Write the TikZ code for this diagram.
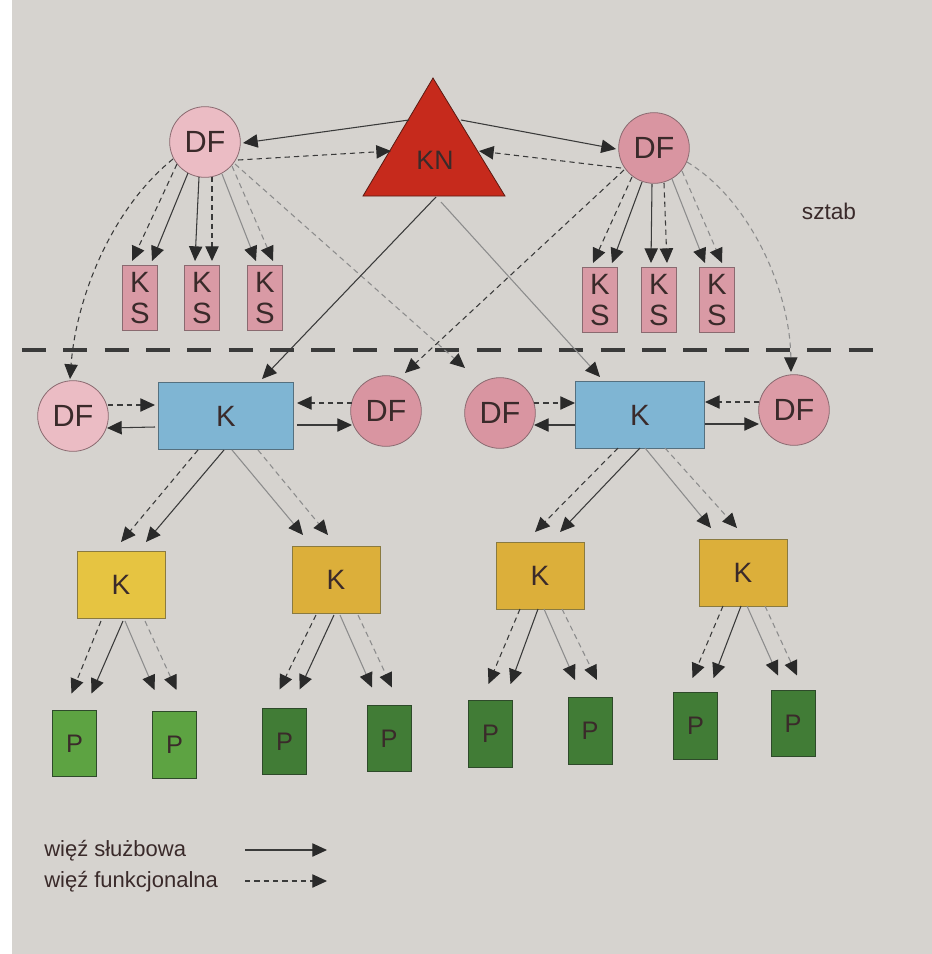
\documentclass[tikz,border=0pt]{standalone}
\usepackage{fontspec}
\setmainfont{Liberation Sans}
\usetikzlibrary{arrows.meta,calc}
\definecolor{bgc}{HTML}{D6D3CF}
\definecolor{pinkA}{HTML}{EBBCC4}
\definecolor{pinkB}{HTML}{D995A1}
\definecolor{pinkKS}{HTML}{D99AA5}
\definecolor{pinkbd}{HTML}{8A6A70}
\definecolor{knred}{HTML}{C62A1C}
\definecolor{knbd}{HTML}{5A1A12}
\definecolor{blueK}{HTML}{7FB5D3}
\definecolor{bluebd}{HTML}{55707F}
\definecolor{yelA}{HTML}{E6C441}
\definecolor{yelB}{HTML}{DCAF3A}
\definecolor{yelbd}{HTML}{8A7A40}
\definecolor{grnA}{HTML}{5DA342}
\definecolor{grnB}{HTML}{417C36}
\definecolor{grnbd}{HTML}{2E4A2A}
\definecolor{txtc}{HTML}{3A2A2A}
\definecolor{linec}{HTML}{3A3A3A}
\definecolor{lightc}{HTML}{8C8C8C}
\definecolor{tipc}{HTML}{2A2A2A}
\tikzset{
  df/.style={circle, draw=pinkbd, line width=0.6pt, fill=pinkA, minimum size=53pt, inner sep=0pt, text=txtc, font=\fontsize{23}{23}\selectfont},
  dfd/.style={df, fill=pinkB},
  ks/.style={rectangle, draw=pinkbd, line width=0.6pt, fill=pinkKS, minimum width=26pt, minimum height=49pt, inner sep=0pt, align=center, text=txtc, font=\fontsize{22}{23}\selectfont},
  kb/.style={rectangle, draw=bluebd, line width=0.6pt, fill=blueK, minimum width=101pt, minimum height=50pt, text=txtc, font=\fontsize{22}{22}\selectfont},
  ky/.style={rectangle, draw=yelbd, line width=0.6pt, fill=yelA, minimum width=66pt, minimum height=50pt, text=txtc, font=\fontsize{21}{21}\selectfont},
  kyd/.style={ky, fill=yelB},
  pg/.style={rectangle, draw=grnbd, line width=0.6pt, fill=grnA, minimum width=33pt, minimum height=50pt, text=txtc, font=\fontsize{19}{19}\selectfont},
  pgd/.style={pg, fill=grnB},
  sl/.style={draw=linec, line width=0.8pt, -{Triangle[length=11pt,width=10pt,color=tipc]}},
  fn/.style={sl, dash pattern=on 4pt off 3pt},
  light/.style={draw=lightc},
  sepline/.style={draw=linec, line width=2.6pt, dash pattern=on 18pt off 13pt},
  lbl/.style={text=txtc, inner sep=0pt}
}
\begin{document}
\begin{tikzpicture}[x=0.75pt,y=-0.75pt]
\useasboundingbox (0,0) rectangle (932,954);
\fill[bgc] (0,0) rectangle (932,954);
\fill[white] (0,0) rectangle (12,954);

% ---- top level ----
\fill[knred, draw=knbd, line width=0.6pt] (433,78) -- (505,196) -- (363,196) -- cycle;
\node[lbl, font=\fontsize{20}{20}\selectfont] (kn) at (435,160) {KN};
\node[df] (dfTL) at (205,142) {DF};
\node[dfd] (dfTR) at (654,148) {DF};
\node[ks] (ks1) at (140,298) {K\\S};
\node[ks] (ks2) at (202,298) {K\\S};
\node[ks] (ks3) at (265,298) {K\\S};
\node[ks] (ks4) at (600,300) {K\\S};
\node[ks] (ks5) at (659,300) {K\\S};
\node[ks] (ks6) at (717,300) {K\\S};
\node[lbl, font=\fontsize{17}{17}\selectfont] (sztab) at (829,211) {sztab};

\coordinate (sepL) at (22,350);
\coordinate (sepR) at (882,350);
\draw[sepline] (sepL) -- (sepR);

% ---- middle level ----
\node[df] (dfML) at (73,416) {DF};
\node[kb] (kbL) at (226,416) {K};
\node[dfd] (dfMC) at (386,411) {DF};
\node[dfd] (dfMC2) at (500,413) {DF};
\node[kb, minimum width=97pt] (kbR) at (640,415) {K};
\node[dfd, fill=pinkB!85!pinkA] (dfMR) at (794,410) {DF};

% ---- lower levels ----
\node[ky] (y1) at (121,585) {K};
\node[kyd] (y2) at (336,580) {K};
\node[kyd] (y3) at (540,576) {K};
\node[kyd] (y4) at (743,573) {K};
\node[pg] (p1) at (74.5,743.5) {P};
\node[pg] (p2) at (174.5,745) {P};
\node[pgd] (p3) at (284.5,741.5) {P};
\node[pgd] (p4) at (389,738.5) {P};
\node[pgd] (p5) at (490.5,734) {P};
\node[pgd] (p6) at (590,731) {P};
\node[pgd] (p7) at (695.5,726) {P};
\node[pgd] (p8) at (793,723.5) {P};

% ---- KN <-> top DF ----
\draw[sl] ($(kn)+(-26,-40)$) -- ($(dfTL)+(38,1)$);
\draw[fn] ($(dfTL)+(33,18)$) -- ($(kn)+(-44,-9)$);
\draw[sl] ($(kn)+(26,-40)$) -- ($(dfTR)+(-38,1)$);
\draw[fn] ($(dfTR)+(-33,20)$) -- ($(kn)+(44,-9)$);

% ---- top DF -> KS ----
\draw[fn] ($(dfTL)+(-28,22)$) -- ($(ks1)+(-8,-37)$);
\draw[sl] ($(dfTL)+(-17,31)$) -- ($(ks1)+(12,-37)$);
\draw[sl] ($(dfTL)+(-6,35)$) -- ($(ks2)+(-7,-37)$);
\draw[fn] ($(dfTL)+(7,35)$) -- ($(ks2)+(10,-37)$);
\draw[sl,light] ($(dfTL)+(17,32)$) -- ($(ks3)+(-9,-37)$);
\draw[fn,light] ($(dfTL)+(27,24)$) -- ($(ks3)+(8,-37)$);
\draw[fn] ($(dfTR)+(-22,29)$) -- ($(ks4)+(-7,-37)$);
\draw[sl] ($(dfTR)+(-12,34)$) -- ($(ks4)+(12,-37)$);
\draw[sl] ($(dfTR)+(-2,36)$) -- ($(ks5)+(-8,-37)$);
\draw[fn] ($(dfTR)+(10,35)$) -- ($(ks5)+(8,-37)$);
\draw[sl,light] ($(dfTR)+(18,31)$) -- ($(ks6)+(-12,-37)$);
\draw[fn,light] ($(dfTR)+(28,23)$) -- ($(ks6)+(5,-37)$);

% ---- top DF -> middle DF ----
\draw[fn] ($(dfTL)+(-32,17)$) .. controls (110,210) and (76,300) .. ($(dfML)+(-3,-37)$);
\draw[fn,light] ($(dfTL)+(30,22)$) -- ($(dfMC2)+(-35,-45)$);
\draw[fn] ($(dfTR)+(-30,22)$) -- ($(dfMC)+(19,-38)$);
\draw[fn,light] ($(dfTR)+(33,14)$) .. controls (750,200) and (790,290) .. ($(dfMR)+(-3,-38)$);

% ---- KN -> middle K ----
\draw[sl] ($(kn)+(1,37)$) -- ($(kbL)+(36,-37)$);
\draw[sl,light] ($(kn)+(6,42)$) -- ($(kbR)+(-40,-38)$);

% ---- middle K <-> DF ----
\draw[fn] ($(dfML)+(35,-11)$) -- ($(kbL)+(-71,-11)$);
\draw[sl] ($(kbL)+(-71,11)$) -- ($(dfML)+(34,12)$);
\draw[fn] ($(dfMC)+(-34,-8)$) -- ($(kbL)+(71,-13)$);
\draw[sl] ($(kbL)+(71,9)$) -- ($(dfMC)+(-34,14)$);
\draw[fn] ($(dfMC2)+(34,-10)$) -- ($(kbR)+(-65,-12)$);
\draw[sl] ($(kbR)+(-65,10)$) -- ($(dfMC2)+(34,12)$);
\draw[fn] ($(dfMR)+(-35,-8)$) -- ($(kbR)+(65,-13)$);
\draw[sl] ($(kbR)+(65,9)$) -- ($(dfMR)+(-35,14)$);

% ---- middle K -> yellow K ----
\draw[fn] ($(kbL)+(-28,34)$) -- ($(y1)+(0,-43)$);
\draw[sl] ($(kbL)+(-2,34)$) -- ($(y1)+(25,-43)$);
\draw[sl,light] ($(kbL)+(6,34)$) -- ($(y2)+(-33,-45)$);
\draw[fn,light] ($(kbL)+(32,34)$) -- ($(y2)+(-8,-45)$);
\draw[fn] ($(kbR)+(-22,33)$) -- ($(y3)+(-5,-44)$);
\draw[sl] ($(kbR)+(0,33)$) -- ($(y3)+(20,-44)$);
\draw[sl,light] ($(kbR)+(5,33)$) -- ($(y4)+(-32,-45)$);
\draw[fn,light] ($(kbR)+(25,33)$) -- ($(y4)+(-6,-45)$);

% ---- yellow K -> P ----
\draw[fn] ($(y1)+(-20,36)$) -- ($(p1)+(-3,-50)$);
\draw[sl] ($(y1)+(2,36)$) -- ($(p1)+(17,-50)$);
\draw[sl,light] ($(y1)+(4,36)$) -- ($(p2)+(-20,-55)$);
\draw[fn,light] ($(y1)+(24,36)$) -- ($(p2)+(2,-55)$);
\draw[fn] ($(y2)+(-20,35)$) -- ($(p3)+(-5,-52)$);
\draw[sl] ($(y2)+(-2,35)$) -- ($(p3)+(15,-52)$);
\draw[sl,light] ($(y2)+(4,35)$) -- ($(p4)+(-17,-51)$);
\draw[fn,light] ($(y2)+(22,35)$) -- ($(p4)+(3,-51)$);
\draw[fn] ($(y3)+(-20,33)$) -- ($(p5)+(-2,-50)$);
\draw[sl] ($(y3)+(-2,33)$) -- ($(p5)+(20,-50)$);
\draw[sl,light] ($(y3)+(4,33)$) -- ($(p6)+(-15,-51)$);
\draw[fn,light] ($(y3)+(22,33)$) -- ($(p6)+(7,-51)$);
\draw[fn] ($(y4)+(-20,33)$) -- ($(p7)+(-3,-48)$);
\draw[sl] ($(y4)+(-2,33)$) -- ($(p7)+(18,-48)$);
\draw[sl,light] ($(y4)+(4,33)$) -- ($(p8)+(-15,-48)$);
\draw[fn,light] ($(y4)+(22,33)$) -- ($(p8)+(4,-48)$);

% ---- legend ----
\node[lbl, anchor=west, font=\fontsize{16.5}{16.5}\selectfont] (leg1) at (44,851) {więź służbowa};
\node[lbl, anchor=west, font=\fontsize{16.5}{16.5}\selectfont] (leg2) at (44,882) {więź funkcjonalna};
\coordinate (la1) at (245,850);
\coordinate (lb1) at (327,850);
\coordinate (la2) at (245,881);
\coordinate (lb2) at (327,881);
\draw[sl] (la1) -- (lb1);
\draw[fn] (la2) -- (lb2);
\end{tikzpicture}
\end{document}
